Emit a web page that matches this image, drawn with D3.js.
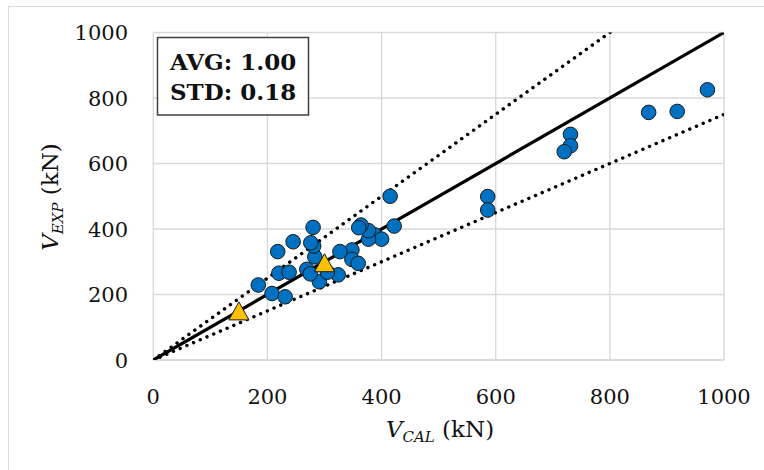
<!DOCTYPE html>
<html>
<head>
<meta charset="utf-8">
<script src="https://cdn.jsdelivr.net/npm/d3@7"></script>
<style>
  html, body { margin: 0; padding: 0; background: #fff; }
  svg { display: block; }
</style>
</head>
<body>
<div id="chart"></div>
<script>
// V_EXP vs V_CAL, 1:1 line with ±25% bounds
const xTicks = [0, 200, 400, 600, 800, 1000];
const yTicks = [0, 200, 400, 600, 800, 1000];

// test specimens (kN)
const testCal = [971, 918, 868, 731, 731, 720, 586, 586, 415, 422, 388, 400, 377, 377, 364, 360,
  348, 327, 348, 359, 324, 291, 283, 281, 276, 280, 245, 218, 220, 238, 269, 275, 184, 208, 231, 305];
const testExp = [825, 759, 756, 689, 654, 636, 499, 458, 500, 409, 382, 369, 369, 395, 412, 404,
  336, 331, 307, 295, 260, 239, 315, 348, 358, 405, 361, 331, 265, 268, 277, 263, 229, 203, 193, 268];

// highlighted specimens
const hlCal = [150, 300];
const hlExp = [150, 297];

// ratio lines V_EXP = k * V_CAL
const ratioK = [1.0, 1.25, 0.75];
const ratioDash = [null, "0.1,7.2", "0.1,7.2"];

const statLabels = ["AVG: 1.00", "STD: 0.18"];

const W = 764, H = 470;
const svg = d3.select("#chart").append("svg").attr("width", W).attr("height", H);

// outer frame
svg.append("rect").attr("x", 8.5).attr("y", 6.5).attr("width", W + 10).attr("height", H + 10)
  .attr("fill", "#fff").attr("stroke", "#d9d9d9").attr("stroke-width", 1);

const x = d3.scaleLinear().domain([0, 1000]).range([153.3, 724]);
const y = d3.scaleLinear().domain([0, 1000]).range([360, 32.5]);

// grid
const grid = svg.append("g");
grid.selectAll("line.v").data(xTicks).join("line").attr("class", "v")
  .attr("x1", (d) => x(d)).attr("x2", (d) => x(d)).attr("y1", y(0)).attr("y2", y(1000))
  .attr("stroke", "#d9d9d9").attr("stroke-width", 1.4);
grid.selectAll("line.h").data(yTicks).join("line").attr("class", "h")
  .attr("y1", (d) => y(d)).attr("y2", (d) => y(d)).attr("x1", x(0)).attr("x2", x(1000))
  .attr("stroke", "#d9d9d9").attr("stroke-width", (d) => (d === 0 ? 2 : 1.4));

// tick labels
const font = "'DejaVu Serif', serif";
svg.append("g").selectAll("text").data(xTicks).join("text")
  .attr("x", (d) => x(d)).attr("y", 396).attr("dy", "0.36em").attr("text-anchor", "middle")
  .attr("font-family", font).attr("font-size", 21).attr("fill", "#111").text((d) => d);
svg.append("g").selectAll("text").data(yTicks).join("text")
  .attr("x", 128).attr("y", (d) => y(d)).attr("dy", "0.36em").attr("text-anchor", "end")
  .attr("font-family", font).attr("font-size", 21).attr("fill", "#111").text((d) => d);

// ratio lines, clipped to plot area
svg.append("clipPath").attr("id", "plot").append("rect")
  .attr("x", x(0)).attr("y", y(1000)).attr("width", x(1000) - x(0)).attr("height", y(0) - y(1000));
const line = d3.line().x((d) => x(d[0])).y((d) => y(d[1]));
svg.append("g").attr("clip-path", "url(#plot)").selectAll("path")
  .data(ratioK.map((k, i) => ({ k, dash: ratioDash[i] }))).join("path")
  .attr("d", (d) => line([[0, 0], [1000, 1000 * d.k]]))
  .attr("fill", "none").attr("stroke", "#000")
  .attr("stroke-width", (d) => (d.dash ? 3.4 : 3.2))
  .attr("stroke-linecap", (d) => (d.dash ? "round" : "butt"))
  .attr("stroke-dasharray", (d) => d.dash);

// circles
svg.append("g").selectAll("circle").data(testCal.map((v, i) => [v, testExp[i]])).join("circle")
  .attr("cx", (d) => x(d[0])).attr("cy", (d) => y(d[1])).attr("r", 7.3)
  .attr("fill", "#0070c0").attr("stroke", "#1a1a1a").attr("stroke-width", 1);

// triangles (bbox-centred like Excel markers)
const tw = 20, th = 18;
svg.append("g").selectAll("path").data(hlCal.map((v, i) => [v, hlExp[i]])).join("path")
  .attr("transform", (d) => `translate(${x(d[0])},${y(d[1])})`)
  .attr("d", `M0,${-th / 2}L${tw / 2},${th / 2}L${-tw / 2},${th / 2}Z`)
  .attr("fill", "#ffc000").attr("stroke", "#1a1a1a").attr("stroke-width", 1);

// stats box
const box = svg.append("g");
box.append("rect").attr("x", 157.5).attr("y", 37.5).attr("width", 151).attr("height", 77.5)
  .attr("fill", "#fff").attr("stroke", "#404040").attr("stroke-width", 1.5);
box.selectAll("text").data(statLabels).join("text")
  .attr("x", 170).attr("y", (d, i) => 70 + i * 30)
  .attr("font-family", font).attr("font-weight", "bold").attr("font-size", 23).attr("fill", "#111")
  .text((d) => d);

// axis titles
function title(g, main, sub) {
  const t = g.append("text").attr("text-anchor", "middle").attr("font-family", font)
    .attr("font-size", 23).attr("fill", "#111");
  t.append("tspan").attr("font-style", "italic").text(main);
  t.append("tspan").attr("font-style", "italic").attr("font-size", 15).attr("dy", "0.3em").text(sub);
  t.append("tspan").attr("dy", "-0.2em").text(" (kN)");
  return t;
}
title(svg.append("g").attr("transform", "translate(440,437)"), "V", "CAL");
title(svg.append("g").attr("transform", "translate(58,197) rotate(-90)"), "V", "EXP");
</script>
</body>
</html>
